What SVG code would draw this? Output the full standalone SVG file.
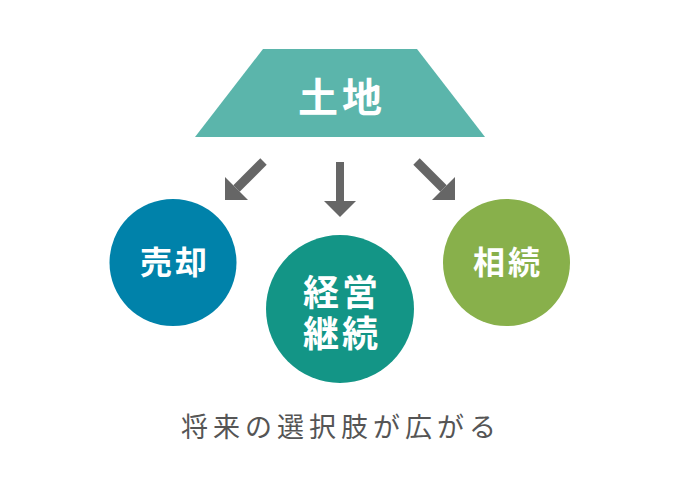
<svg xmlns="http://www.w3.org/2000/svg" width="681" height="480" viewBox="0 0 681 480">
<style>
.lbl{font-family:"Noto Sans CJK JP","Noto Sans CJK SC",sans-serif;font-weight:bold;fill:#fff;text-anchor:middle}
.arrow{fill:#666666}
</style>
<rect width="681" height="480" fill="#fff"/>
<g id="land">
<polygon points="263,49 417,49 485,137 195,137" fill="#5BB5AB"/>
<text class="lbl" x="342" y="112" font-size="40" letter-spacing="4">土地</text>
</g>
<g id="connectors" class="arrow">
<polygon points="266.7,164.7 260.3,158.3 233.3,185.3 239.7,191.7"/>
<polygon points="225,177 225,200 248,200"/>
<polygon points="336,162 344,162 344,201 356,201 340,217 324,201 336,201"/>
<polygon points="413.3,164.7 419.7,158.3 446.7,185.3 440.3,191.7"/>
<polygon points="455,177 455,200 432,200"/>
</g>
<g id="sell">
<circle cx="173" cy="262.5" r="63.5" fill="#0082AA"/>
<text class="lbl" x="175" y="274" font-size="32" letter-spacing="3">売却</text>
</g>
<g id="continue">
<circle cx="340" cy="309" r="74" fill="#139586"/>
<text class="lbl" font-size="36" letter-spacing="3"><tspan x="342" y="306">経営</tspan><tspan x="342" y="347">継続</tspan></text>
</g>
<g id="inherit">
<circle cx="506.5" cy="262.5" r="63.5" fill="#88B04B"/>
<text class="lbl" x="508" y="274" font-size="32" letter-spacing="3">相続</text>
</g>
<text x="341" y="437" font-family="Noto Sans CJK JP,Noto Sans CJK SC,sans-serif" font-size="27" letter-spacing="5" fill="#555555" text-anchor="middle">将来の選択肢が広がる</text>
</svg>
